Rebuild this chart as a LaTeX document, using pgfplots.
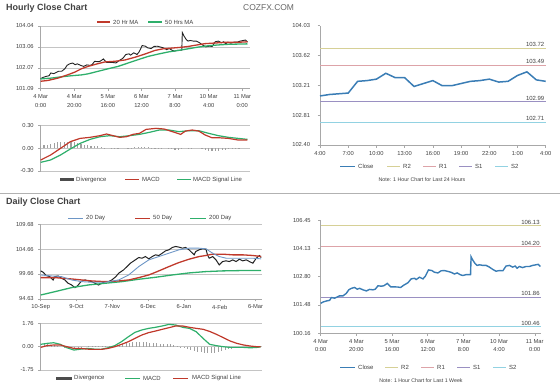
\documentclass[border=0pt]{standalone}
\usepackage{pgfplots}
\pgfplotsset{compat=1.18}
\usepackage{pgfplotstable}
\usepackage{fontspec}
\setmainfont{Liberation Sans}
\definecolor{cblack}{HTML}{222222}
\definecolor{cred}{HTML}{C0392B}
\definecolor{cgreen}{HTML}{2EAF6B}
\definecolor{cblue}{HTML}{3A7DB5}
\definecolor{cblue2}{HTML}{6D96C6}
\definecolor{cR2}{HTML}{D6D096}
\definecolor{cR1}{HTML}{DDA3A8}
\definecolor{cS1}{HTML}{9A90C2}
\definecolor{cS2}{HTML}{92D2E2}
\definecolor{cgrid}{HTML}{C4C4C4}
\definecolor{caxis}{HTML}{A8A8A8}
\definecolor{ctxt}{HTML}{404040}
\definecolor{cdiv}{HTML}{A0A0A0}
\newcommand{\tf}{\fontsize{5.8}{8.6}\selectfont}
\newcommand{\lf}{\fontsize{6}{7}\selectfont}

\pgfplotstableread{
h v
0 101.56
1.3 101.62
3.2 101.67
5.0 101.70
6.0 101.83
7.8 101.80
9.3 101.86
10.6 101.91
12.5 101.91
14.4 102.03
15.7 102.19
17.2 102.26
19.0 102.30
20.5 102.22
21.8 102.26
23.7 102.19
25.6 102.14
27.4 102.21
29.3 102.19
30.6 102.22
32.1 102.38
34.0 102.36
35.4 102.38
37.3 102.49
39.2 102.33
41.0 102.33
43.3 102.32
44.8 102.30
46.6 102.41
48.9 102.52
50.7 102.70
52.6 102.73
53.5 102.67
55.4 102.78
57.3 102.70
58.6 102.82
60.4 103.12
62.3 103.09
63.8 103.01
65.7 102.98
67.5 103.08
69.4 103.09
71.3 103.05
73.1 103.01
75.0 102.93
76.5 102.98
78.4 102.89
79.7 102.86
81.5 102.90
83.4 102.90
84.0 102.90
84.3 103.73
85.3 103.57
86.6 103.41
87.7 103.33
89.0 103.36
90.9 103.33
92.7 103.33
94.6 103.25
96.5 103.14
98.3 103.06
100.2 103.09
102.1 103.08
103.9 103.30
105.8 103.33
107.6 103.25
109.0 103.30
110.1 103.20
111.4 103.28
113.2 103.23
115.1 103.28
117.0 103.28
118.8 103.33
120.7 103.36
122.0 103.38
123.1 103.28
}\hclose

\pgfplotstableread{
h v
0 101.44
4.4 101.48
10.3 101.59
16.3 101.75
20.3 101.87
24.3 102.03
28.2 102.14
33.2 102.25
38.2 102.35
44.1 102.38
50.1 102.44
56.1 102.57
62.0 102.72
68.0 102.89
73.0 102.97
77.9 103.00
83.9 103.04
87.9 103.08
93.9 103.16
97.8 103.21
103.8 103.24
109.7 103.27
115.7 103.27
121.7 103.29
123.1 103.30
}\hmatwenty

\pgfplotstableread{
h v
0 101.55
6.4 101.59
12.3 101.65
18.3 101.70
24.3 101.74
28.2 101.79
34.2 101.91
40.2 102.03
46.1 102.14
52.1 102.30
58.1 102.46
64.0 102.61
70.0 102.72
76.0 102.82
81.9 102.89
87.9 102.97
93.9 103.05
99.8 103.11
105.8 103.15
111.8 103.18
117.7 103.19
123.1 103.20
}\hmafifty

\pgfplotstableread{
h v
0 -0.154
5.9 -0.088
11.8 0.000
17.6 0.088
23.5 0.132
29.4 0.146
35.3 0.168
39.2 0.190
43.1 0.168
47.0 0.146
51.0 0.154
54.9 0.185
58.8 0.199
62.7 0.251
68.6 0.265
73.5 0.256
78.4 0.221
83.3 0.185
86.2 0.229
90.2 0.243
94.1 0.229
98.0 0.176
101.9 0.141
105.8 0.141
111.7 0.132
117.6 0.110
123.1 0.110
}\hmacd

\pgfplotstableread{
h v
0 -0.185
5.9 -0.154
11.8 -0.088
17.6 -0.009
23.5 0.066
29.4 0.119
35.3 0.154
41.2 0.168
47.0 0.154
52.9 0.168
58.8 0.185
64.7 0.212
70.6 0.243
76.4 0.243
82.3 0.221
88.2 0.234
94.1 0.234
100.0 0.199
105.8 0.168
111.7 0.146
117.6 0.132
123.1 0.119
}\hsignal

\pgfplotstableread{
h v
0 0.03
2 0.04
4 0.05
6 0.06
8 0.07
10 0.08
12 0.09
14 0.09
16 0.09
18 0.09
20 0.08
22 0.07
24 0.06
26 0.05
28 0.04
30 0.03
32 0.03
34 0.03
36 0.02
38 0.01
40 0.00
42 -0.01
44 -0.01
46 -0.01
48 0.00
50 0.00
52 0.01
54 0.01
56 0.02
58 0.02
60 0.02
62 0.02
64 0.02
66 0.01
68 0.01
70 0.01
72 0.01
74 0.00
76 -0.01
78 -0.01
80 -0.02
82 -0.02
84 -0.01
86 0.00
88 0.01
90 0.01
92 0.00
94 0.00
96 -0.01
98 -0.02
100 -0.03
102 -0.04
104 -0.04
106 -0.03
108 -0.02
110 -0.02
112 -0.01
114 -0.01
116 -0.01
118 -0.01
120 0.00
122 0.00
}\hdiv

\pgfplotstableread{
h v
0 103.07
1 103.09
2 103.10
3 103.11
4 103.27
5 103.28
6 103.30
7 103.38
8 103.32
9 103.32
10 103.20
11 103.24
12 103.28
13 103.21
14 103.21
15 103.24
16 103.27
17 103.28
18 103.30
19 103.26
20 103.27
21 103.35
22 103.40
23 103.29
24 103.27
}\dayclose

\pgfplotstableread{
d v
0 100.27
1.4 100.00
3.3 99.32
5.3 99.12
7.3 98.44
8.3 99.12
10.2 99.25
12.2 98.78
14.2 98.44
16.1 97.77
18.1 97.43
20.1 96.89
21.7 97.29
23.6 98.10
26.0 98.44
28.0 98.24
29.9 98.10
31.9 97.77
33.9 97.43
35.8 97.77
37.8 98.10
39.8 98.10
41.7 98.44
44.1 99.12
45.7 99.79
48.6 100.47
50.6 101.14
52.6 101.82
55.5 102.50
57.5 102.97
59.4 102.83
61.4 103.17
63.4 102.70
65.4 103.17
67.3 103.51
69.3 103.38
71.3 103.85
73.2 104.32
75.2 104.53
77.2 105.00
79.1 105.20
81.1 105.07
83.1 104.86
85.0 105.00
87.0 104.53
89.0 103.85
90.0 103.51
90.9 104.19
92.9 104.53
94.9 104.73
96.9 104.66
97.8 103.51
98.8 102.83
100.8 103.17
102.8 102.50
104.7 101.48
106.7 102.16
108.7 102.30
110.6 102.16
112.6 102.50
114.6 102.16
116.5 102.63
118.5 102.30
120.5 102.50
122.4 102.16
124.4 101.82
126.4 102.83
128.3 103.38
129.3 102.97
}\dclose

\pgfplotstableread{
d v
0 99.45
6.3 99.25
12.2 99.12
18.1 98.44
24.0 98.10
29.9 97.97
37.8 97.97
45.7 98.44
51.6 99.45
57.5 101.14
63.4 102.50
69.3 103.17
75.2 103.85
81.1 104.53
87.0 104.86
92.9 104.86
96.9 104.73
100.8 103.85
104.7 103.17
108.7 102.83
116.5 102.83
124.4 102.83
129.3 102.70
}\dmatwenty

\pgfplotstableread{
d v
0 98.91
8.3 98.91
18.1 98.64
24.0 98.44
29.9 98.24
37.8 98.10
45.7 98.24
51.6 98.44
57.5 98.91
63.4 99.45
69.3 100.27
75.2 101.14
81.1 101.96
87.0 102.63
92.9 103.17
96.9 103.38
100.8 103.65
106.7 103.65
112.6 103.51
118.5 103.51
124.4 103.38
129.3 103.17
}\dmafifty

\pgfplotstableread{
d v
0 95.40
8.3 96.07
18.1 96.89
28.0 97.43
37.8 97.77
47.6 98.10
57.5 98.58
67.3 98.98
77.2 99.45
87.0 99.86
96.9 100.13
106.7 100.27
116.5 100.33
129.3 100.33
}\dmatwohundred

\pgfplotstableread{
d v
0 0.18
3.6 0.25
7.6 0.30
11.5 0.18
15.5 -0.08
19.5 -0.25
23.5 -0.18
27.5 -0.13
31.5 -0.18
35.4 -0.20
39.4 -0.08
43.4 0.08
47.4 0.38
51.4 0.75
55.3 1.08
59.3 1.26
63.3 1.38
67.3 1.46
71.3 1.56
75.2 1.68
79.2 1.63
83.2 1.46
87.2 1.38
91.2 1.13
95.2 0.63
99.1 0.18
103.1 0.08
107.1 0.00
111.1 -0.05
115.1 -0.05
119.0 -0.05
123.0 -0.08
127.0 -0.05
129.0 0.00
}\dmacd

\pgfplotstableread{
d v
0 -0.05
3.6 0.08
7.6 0.13
11.5 0.13
15.5 0.00
19.5 -0.13
23.5 -0.13
27.5 -0.18
31.5 -0.20
35.4 -0.20
39.4 -0.13
43.4 0.00
47.4 0.18
51.4 0.38
55.3 0.63
59.3 0.88
63.3 1.06
67.3 1.18
71.3 1.31
75.2 1.43
79.2 1.56
83.2 1.56
87.2 1.46
91.2 1.38
95.2 1.31
99.1 1.15
103.1 0.93
107.1 0.68
111.1 0.43
115.1 0.25
119.0 0.13
123.0 0.05
127.0 0.00
129.0 0.00
}\dsignal

\pgfplotstableread{
d v
0 0.20
2 0.20
4 0.17
6 0.14
8 0.10
10 0.06
12 0.00
14 -0.05
16 -0.08
18 -0.10
20 -0.08
22 -0.05
24 -0.02
26 0.00
28 0.02
30 0.02
32 0.02
34 0.03
36 0.03
38 0.04
40 0.05
42 0.07
44 0.10
46 0.15
48 0.20
50 0.25
52 0.30
54 0.34
56 0.36
58 0.36
60 0.35
62 0.32
64 0.30
66 0.27
68 0.25
70 0.23
72 0.22
74 0.20
76 0.18
78 0.10
80 0.05
82 -0.02
84 -0.08
86 -0.15
88 -0.22
90 -0.30
92 -0.36
94 -0.42
96 -0.46
98 -0.48
100 -0.47
102 -0.44
104 -0.40
106 -0.35
108 -0.28
110 -0.20
112 -0.15
114 -0.10
116 -0.07
118 -0.05
120 -0.03
122 -0.02
124 0.00
126 0.02
128 0.03
}\ddiv

\pgfplotsset{
  base/.style={scale only axis, clip=false,
    axis x line*=bottom, axis y line*=left,
    axis line style={draw=caxis, line width=0.5bp},
    tick style={draw=caxis, line width=0.5bp},
    major tick length=2.5bp,
    tick align=outside,
    tick label style={font=\tf, text=ctxt},
    /pgf/number format/assume math mode=true,
    grid style={draw=cgrid, line width=0.5bp},
    yticklabel style={xshift=-1bp},
    xticklabel style={align=center},
  },
}

\begin{document}
\begin{tikzpicture}[x=1bp,y=1bp]
\useasboundingbox (0,0) rectangle (560,-388);

% titles
\node[anchor=west, inner sep=0, font=\bfseries\fontsize{9}{10}\selectfont, text=ctxt] at (6,-8) {Hourly Close Chart};
\node[anchor=west, inner sep=0, font=\fontsize{8.5}{10}\selectfont, text=black!60] at (243,-8) {COZFX.COM};
\node[anchor=west, inner sep=0, font=\bfseries\fontsize{9}{10}\selectfont, text=ctxt] at (6,-202.5) {Daily Close Chart};
\draw[black!30, line width=0.6bp] (0,-193) -- (560,-193);

% ---------- A1 hourly price ----------
\begin{axis}[base, at={(40.7bp,-88.7bp)}, anchor=south west,
  width=209.3bp, height=62.7bp,
  xmin=0, xmax=124.6, ymin=101.09, ymax=104.04,
  ytick={101.09,102.07,103.06,104.04},
  yticklabels={101.09,102.07,103.06,104.04},
  ymajorgrids,
  xtick={0,20,40,60,80,100,120},
  xticklabels={{4 Mar\\0:00},{4 Mar\\20:00},{5 Mar\\16:00},{6 Mar\\12:00},{7 Mar\\8:00},{10 Mar\\4:00},{11 Mar\\0:00}},
]
\addplot[cblack, line width=0.9bp] table[x=h,y=v] {\hclose};
\addplot[cgreen, line width=1.3bp] table[x=h,y=v] {\hmafifty};
\addplot[cred, line width=1.3bp] table[x=h,y=v] {\hmatwenty};
\end{axis}
\draw[cred, line width=1.2bp] (97,-22) -- (110,-22);
\node[anchor=west, font=\lf, text=ctxt, inner sep=0] at (113,-22) {20 Hr MA};
\draw[cgreen, line width=1.2bp] (148,-22) -- (162,-22);
\node[anchor=west, font=\lf, text=ctxt, inner sep=0] at (165,-22) {50 Hrs MA};

% ---------- A2 hourly MACD ----------
\begin{axis}[base, at={(40.7bp,-171bp)}, anchor=south west,
  width=209.3bp, height=45.3bp,
  xmin=0, xmax=124.6, ymin=-0.3, ymax=0.3,
  axis x line=none,
  ytick={-0.3,0,0.3}, yticklabels={-0.30,0.00,0.30},
  ymajorgrids,
]
\addplot[cdiv, line width=1.2bp, ycomb] table[x=h,y=v] {\hdiv};
\addplot[cgreen, line width=1.2bp] table[x=h,y=v] {\hsignal};
\addplot[cred, line width=1.2bp] table[x=h,y=v] {\hmacd};
\end{axis}
\draw[black!70, line width=2.5bp] (60,-179.7) -- (74,-179.7);
\node[anchor=west, font=\lf, text=ctxt, inner sep=0] at (76,-179.7) {Divergence};
\draw[cred, line width=1.2bp] (125,-179.7) -- (139,-179.7);
\node[anchor=west, font=\lf, text=ctxt, inner sep=0] at (142,-179.7) {MACD};
\draw[cgreen, line width=1.2bp] (177,-179.7) -- (191,-179.7);
\node[anchor=west, font=\lf, text=ctxt, inner sep=0] at (193,-179.7) {MACD Signal Line};

% ---------- A3 last 24 hours ----------
\begin{axis}[base, at={(320bp,-145bp)}, anchor=south west,
  width=225.7bp, height=119.3bp,
  xmin=0, xmax=24, ymin=102.40, ymax=104.03,
  ytick={102.40,102.8075,103.215,103.6225,104.03},
  yticklabels={102.40,102.81,103.21,103.62,104.03},
  xtick={0,3,6,9,12,15,18,21,24},
  xticklabels={4:00,7:00,10:00,13:00,16:00,19:00,22:00,1:00,4:00},
  yticklabel style={xshift=-3bp},
]
\addplot[cR2, line width=0.8bp] coordinates {(0,103.72) (24,103.72)};
\addplot[cR1, line width=0.8bp] coordinates {(0,103.49) (24,103.49)};
\addplot[cS1, line width=0.8bp] coordinates {(0,102.99) (24,102.99)};
\addplot[cS2, line width=0.8bp] coordinates {(0,102.71) (24,102.71)};
\addplot[cblue, line width=1.5bp] table[x=h,y=v] {\dayclose};
\node[anchor=south east, font=\lf, text=ctxt, inner sep=1.2bp] at (axis cs:24,103.72) {103.72};
\node[anchor=south east, font=\lf, text=ctxt, inner sep=1.2bp] at (axis cs:24,103.49) {103.49};
\node[anchor=south east, font=\lf, text=ctxt, inner sep=1.2bp] at (axis cs:24,102.99) {102.99};
\node[anchor=south east, font=\lf, text=ctxt, inner sep=1.2bp] at (axis cs:24,102.71) {102.71};
\end{axis}
\draw[cblue, line width=1.2bp] (340,-166.7) -- (355,-166.7);
\node[anchor=west, font=\lf, text=ctxt, inner sep=0] at (358,-166.7) {Close};
\draw[cR2, line width=1bp] (387,-166.7) -- (400,-166.7);
\node[anchor=west, font=\lf, text=ctxt, inner sep=0] at (403,-166.7) {R2};
\draw[cR1, line width=1bp] (423,-166.7) -- (436,-166.7);
\node[anchor=west, font=\lf, text=ctxt, inner sep=0] at (439,-166.7) {R1};
\draw[cS1, line width=1bp] (459,-166.7) -- (472,-166.7);
\node[anchor=west, font=\lf, text=ctxt, inner sep=0] at (475,-166.7) {S1};
\draw[cS2, line width=1bp] (495,-166.7) -- (508,-166.7);
\node[anchor=west, font=\lf, text=ctxt, inner sep=0] at (511,-166.7) {S2};
\node[font=\fontsize{5.3}{6}\selectfont, text=ctxt, inner sep=0] at (422,-180) {Note: 1 Hour Chart for Last 24 Hours};

% ---------- A4 daily price ----------
\begin{axis}[base, at={(40.7bp,-298.8bp)}, anchor=south west,
  width=221bp, height=74.5bp,
  xmin=0, xmax=129.6, ymin=94.63, ymax=109.68,
  ytick={94.63,99.66,104.66,109.68},
  yticklabels={94.63,99.66,104.66,109.68},
  ymajorgrids,
  xtick={0,21,42,63,84,105,126},
  xticklabels={10-Sep,9-Oct,7-Nov,6-Dec,6-Jan,4-Feb,6-Mar},
]
\addplot[cblack, line width=1bp] table[x=d,y=v] {\dclose};
\addplot[cgreen, line width=1.3bp] table[x=d,y=v] {\dmatwohundred};
\addplot[cred, line width=1.3bp] table[x=d,y=v] {\dmafifty};
\addplot[cblue2, line width=0.9bp] table[x=d,y=v] {\dmatwenty};
\end{axis}
\draw[cblue2, line width=1bp] (68,-218.3) -- (83,-218.3);
\node[anchor=west, font=\lf, text=ctxt, inner sep=0] at (86,-218.3) {20 Day};
\draw[cred, line width=1.2bp] (135,-218.3) -- (150,-218.3);
\node[anchor=west, font=\lf, text=ctxt, inner sep=0] at (153,-218.3) {50 Day};
\draw[cgreen, line width=1.2bp] (190,-218.3) -- (206,-218.3);
\node[anchor=west, font=\lf, text=ctxt, inner sep=0] at (209,-218.3) {200 Day};

% ---------- A5 daily MACD ----------
\begin{axis}[base, at={(40.7bp,-370bp)}, anchor=south west,
  width=221bp, height=46.7bp,
  xmin=0, xmax=129.6, ymin=-1.75, ymax=1.76,
  axis x line=none,
  ytick={-1.75,0,1.76}, yticklabels={-1.75,0.00,1.76},
  ymajorgrids,
]
\addplot[cdiv, line width=0.7bp, ycomb] table[x=d,y=v] {\ddiv};
\addplot[cgreen, line width=1.2bp] table[x=d,y=v] {\dmacd};
\addplot[cred, line width=1.2bp] table[x=d,y=v] {\dsignal};
\end{axis}
\draw[black!70, line width=2.5bp] (56,-378.3) -- (72,-378.3);
\node[anchor=west, font=\lf, text=ctxt, inner sep=0] at (74,-378.3) {Divergence};
\draw[cgreen, line width=1.2bp] (125,-378.3) -- (140,-378.3);
\node[anchor=west, font=\lf, text=ctxt, inner sep=0] at (143,-378.3) {MACD};
\draw[cred, line width=1.2bp] (173,-378.3) -- (188,-378.3);
\node[anchor=west, font=\lf, text=ctxt, inner sep=0] at (192,-378.3) {MACD Signal Line};

% ---------- A6 last week ----------
\begin{axis}[base, at={(320.7bp,-333.3bp)}, anchor=south west,
  width=220.3bp, height=113.3bp,
  xmin=0, xmax=123.5, ymin=100.16, ymax=105.45,
  ytick={100.16,101.4825,102.805,104.1275,105.45},
  yticklabels={100.16,101.48,102.80,104.13,106.45},
  xtick={0,20,40,60,80,100,120},
  xticklabels={{4 Mar\\0:00},{4 Mar\\20:00},{5 Mar\\16:00},{6 Mar\\12:00},{7 Mar\\8:00},{10 Mar\\4:00},{11 Mar\\0:00}},
  yticklabel style={xshift=-3bp},
]
\addplot[cR2, line width=0.8bp] coordinates {(0,105.18) (123.5,105.18)};
\addplot[cR1, line width=0.8bp] coordinates {(0,104.20) (123.5,104.20)};
\addplot[cS1, line width=0.8bp] coordinates {(0,101.86) (123.5,101.86)};
\addplot[cS2, line width=0.8bp] coordinates {(0,100.46) (123.5,100.46)};
\addplot[cblue, line width=1.4bp] table[x=h,y=v] {\hclose};
\node[anchor=south east, font=\lf, text=ctxt, inner sep=1.2bp] at (axis cs:123.5,105.18) {106.13};
\node[anchor=south east, font=\lf, text=ctxt, inner sep=1.2bp] at (axis cs:123.5,104.20) {104.20};
\node[anchor=south east, font=\lf, text=ctxt, inner sep=1.2bp] at (axis cs:123.5,101.86) {101.86};
\node[anchor=south east, font=\lf, text=ctxt, inner sep=1.2bp] at (axis cs:123.5,100.46) {100.46};
\end{axis}
\draw[cblue, line width=1.2bp] (340,-367.7) -- (355,-367.7);
\node[anchor=west, font=\lf, text=ctxt, inner sep=0] at (358,-367.7) {Close};
\draw[cR2, line width=1bp] (385,-367.7) -- (398,-367.7);
\node[anchor=west, font=\lf, text=ctxt, inner sep=0] at (401,-367.7) {R2};
\draw[cR1, line width=1bp] (421,-367.7) -- (434,-367.7);
\node[anchor=west, font=\lf, text=ctxt, inner sep=0] at (437,-367.7) {R1};
\draw[cS1, line width=1bp] (457,-367.7) -- (470,-367.7);
\node[anchor=west, font=\lf, text=ctxt, inner sep=0] at (473,-367.7) {S1};
\draw[cS2, line width=1bp] (493,-367.7) -- (506,-367.7);
\node[anchor=west, font=\lf, text=ctxt, inner sep=0] at (509,-367.7) {S2};
\node[font=\fontsize{5.3}{6}\selectfont, text=ctxt, inner sep=0] at (421,-381) {Note: 1 Hour Chart for Last 1 Week};
\end{tikzpicture}
\end{document}
